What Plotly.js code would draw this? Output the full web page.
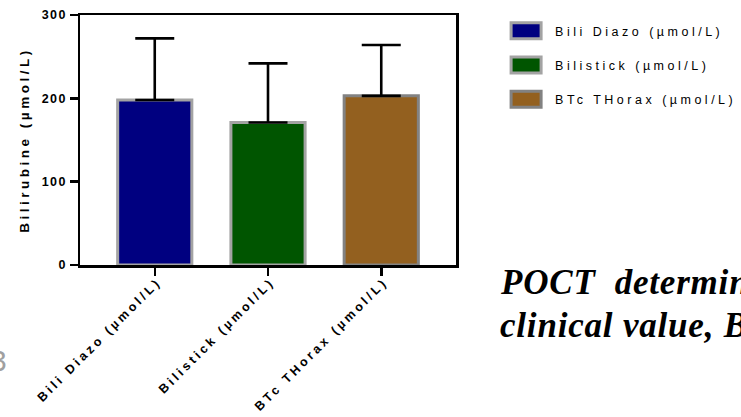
<!DOCTYPE html>
<html>
<head>
<meta charset="utf-8">
<script src="https://cdn.plot.ly/plotly-3.0.1.min.js"></script>
<style>
  html, body { margin: 0; padding: 0; background: #fff; }
  #chart { width: 741px; height: 417px; }
  /* wide tracking on axis and legend labels */
  .xtick text { letter-spacing: 3.2px; }
  .ytick text { letter-spacing: 1.5px; }
  text.legendtext { letter-spacing: 3.5px; }
  text.ytitle { letter-spacing: 3.5px; }
  text.annotation-text { letter-spacing: 0.8px; }
</style>
</head>
<body>
<div id="chart"></div>
<script>
// Bilirubin measured by three methods: mean with upper SD bar
const categories = ['Bili Diazo (µmol/L)', 'Bilistick (µmol/L)', 'BTc THorax (µmol/L)'];
const means = [198, 171, 203];
const sdUpper = [74, 71, 61];
const fillColors = ['#000080', '#005500', '#93601f'];
const edgeColors = ['#a3a3a3', '#a3a3a3', '#828282'];
const yTicks = [0, 100, 200, 300];
const headingLines = ['POCT\u00a0 determin', 'clinical value, B'];

const sans = 'Liberation Sans, Arial, sans-serif';
const serif = 'Liberation Serif, Times New Roman, serif';

const traces = categories.map((cat, i) => ({
  type: 'bar',
  name: cat,
  x: [cat],
  y: [means[i]],
  width: 0.655,
  legendgroup: 'g' + i,
  marker: { color: fillColors[i], line: { color: edgeColors[i], width: 3 } },
  error_y: {
    type: 'data', symmetric: false,
    array: [sdUpper[i]], arrayminus: [0],
    color: '#000000', thickness: 2.6, width: 19.5
  },
  hoverinfo: 'skip'
}));

const axisLine = {
  showline: true, linecolor: '#000', linewidth: 2.5, mirror: true,
  ticks: 'outside', ticklen: 8, tickwidth: 2.5, tickcolor: '#000',
  showgrid: false, zeroline: false
};

const headingFont = { family: serif, size: 35, weight: 'bold', style: 'italic', color: '#000' };

const layout = {
  width: 741, height: 417,
  margin: { l: 80, r: 285, t: 15, b: 152, autoexpand: false },
  paper_bgcolor: '#ffffff', plot_bgcolor: '#ffffff',
  barmode: 'overlay',
  showlegend: true,
  xaxis: Object.assign({}, axisLine, {
    type: 'category',
    categoryorder: 'array', categoryarray: categories,
    range: [-0.66, 2.66],
    tickangle: -45,
    ticklabelstandoff: -6,
    ticklabelshift: 3,
    tickfont: { family: sans, size: 12.5, weight: 'bold', color: '#000' }
  }),
  yaxis: Object.assign({}, axisLine, {
    range: [0, 300],
    tickvals: yTicks,
    ticktext: yTicks.map(String),
    tickfont: { family: sans, size: 12.5, weight: 'bold', color: '#000' },
    title: { text: 'Bilirubine (µmol/L)', font: { family: sans, size: 13.5, weight: 'bold', color: '#000' }, standoff: 9 }
  }),
  legend: {
    x: 1.1093, xanchor: 'left', y: 0.996, yanchor: 'top',
    font: { family: sans, size: 12.5, color: '#000' },
    itemwidth: 48,
    tracegroupgap: 15,
    bgcolor: 'rgba(0,0,0,0)'
  },
  annotations: [
    {
      xref: 'paper', yref: 'paper', x: 1.1117, y: -0.068,
      xanchor: 'left', yanchor: 'middle', align: 'left', showarrow: false,
      text: headingLines[0], font: headingFont
    },
    {
      xref: 'paper', yref: 'paper', x: 1.1117, y: -0.242,
      xanchor: 'left', yanchor: 'middle', align: 'left', showarrow: false,
      text: headingLines[1], font: headingFont
    },
    {
      xref: 'paper', yref: 'paper', x: -0.185, y: -0.38,
      xanchor: 'right', yanchor: 'middle', showarrow: false,
      text: '3',
      font: { family: sans, size: 30, color: '#a0a0a0' }
    }
  ]
};

// widen the legend swatches into flat rectangles
function widenSwatches(gd) {
  gd.querySelectorAll('g.legendpoints path').forEach(p => p.setAttribute('d', 'M15,8H-15V-8H15Z'));
}

const gd = document.getElementById('chart');
Plotly.newPlot(gd, traces, layout, { staticPlot: true, displayModeBar: false }).then(() => {
  widenSwatches(gd);
  gd.on('plotly_afterplot', () => widenSwatches(gd));
  setTimeout(() => widenSwatches(gd), 50);
});
</script>
</body>
</html>
